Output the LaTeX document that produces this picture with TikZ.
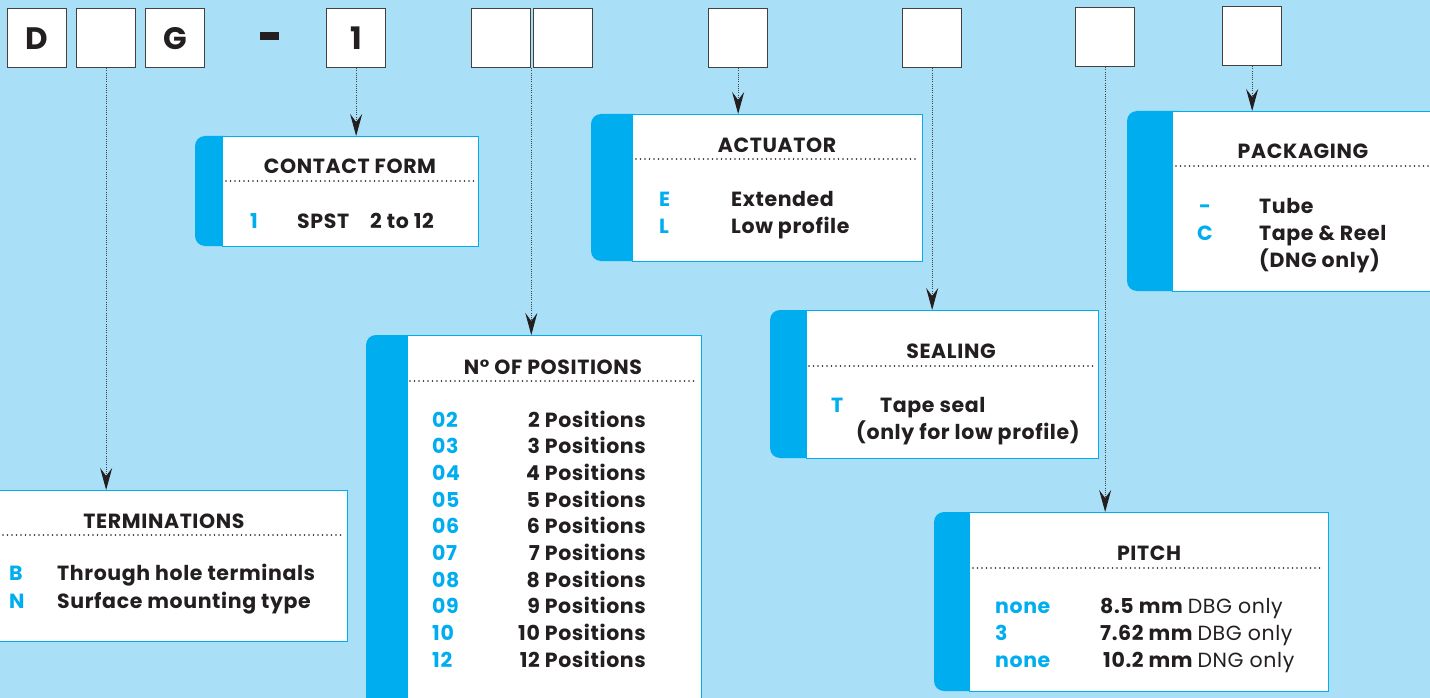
\documentclass[tikz,border=0pt]{standalone}
\usepackage{fontspec}
\setmainfont{Poppins}[LetterSpace=3]
\usetikzlibrary{arrows.meta}
\definecolor{bg}{RGB}{170,223,248}
\definecolor{accent}{RGB}{0,174,239}
\definecolor{ink}{RGB}{35,31,32}
\begin{document}
\begin{tikzpicture}[x=1pt,y=-1pt,
  topbox/.style={draw=ink!85, line width=1.3pt, fill=white, minimum width=59pt, minimum height=59pt, inner sep=0pt, anchor=north west, font=\fontsize{31}{31}\selectfont\bfseries, text=ink},
  panel/.style={draw=accent, line width=1.2pt, fill=white, inner sep=0pt, anchor=north west},
  accbar/.style={fill=accent, rounded corners=10pt},
  ttl/.style={anchor=base, inner sep=0pt, font=\fontsize{20.5}{20.5}\selectfont\bfseries, text=ink},
  code/.style={anchor=base west, inner sep=0pt, font=\fontsize{20.5}{20.5}\selectfont\bfseries, text=accent},
  txt/.style={anchor=base west, inner sep=0pt, font=\fontsize{20.5}{20.5}\selectfont\bfseries, text=ink},
  txtr/.style={anchor=base east, inner sep=0pt, font=\fontsize{20.5}{20.5}\selectfont\bfseries, text=ink},
  sep/.style={draw=ink, line width=1.6pt, dash pattern=on 0pt off 4.5pt, line cap=round},
  conn/.style={draw=ink!85, line width=1pt, dash pattern=on 1pt off 1.2pt, -{Stealth[length=22pt,width=12pt,inset=8pt,color=ink]}}
]
\clip (0,0) rectangle (1430,698);
\fill[bg] (0,0) rectangle (1430,698);

% top code boxes
\node[topbox] (b0) at (7,8) {D};
\node[topbox] (b1) at (76,8) {};
\node[topbox] (b2) at (145,8) {G};
\fill[ink] (260,32) rectangle (279,40);
\node[topbox] (b3) at (326,8) {1};
\node[topbox] (b4) at (471,8) {};
\node[topbox] (b5) at (533,8) {};
\node[topbox] (b6) at (708,8) {};
\node[topbox] (b7) at (902,8) {};
\node[topbox] (b8) at (1075,7) {};
\node[topbox] (b9) at (1222,6) {};

% CONTACT FORM
\fill[accbar] (195,136) rectangle (235,246);
\node[panel, minimum width=256pt, minimum height=110pt] (pcf) at (222,136) {};
\node[ttl] (tcf) at (350,174) {CONTACT FORM};
\draw[sep] (226,181) -- (476,181);
\node[code] (ccf) at (250,228) {1};
\node[txt] (xcf) at (297,228) {SPST};
\node[txt] (xcf2) at (370,228) {2 to 12};

% ACTUATOR
\fill[accbar] (591,114) rectangle (645,261);
\node[panel, minimum width=290pt, minimum height=147pt] (pact) at (632,114) {};
\node[ttl] (tact) at (777,153) {ACTUATOR};
\draw[sep] (636,159) -- (919,159);
\node[code] (cae) at (659,206) {E};
\node[txt] (xae) at (731,206) {Extended};
\node[code] (cal) at (659,233) {L};
\node[txt] (xal) at (731,233) {Low profile};

% TERMINATIONS
\node[panel, minimum width=350pt, minimum height=151pt] (pterm) at (-3,490) {};
\node[ttl] (tterm) at (164,528) {TERMINATIONS};
\draw[sep] (3,535) -- (344,535);
\node[code] (ctb) at (9,580) {B};
\node[txt] (xtb) at (57,580) {Through hole terminals};
\node[code] (ctn) at (9,608) {N};
\node[txt] (xtn) at (57,608) {Surface mounting type};

% N OF POSITIONS
\fill[accbar] (366,335) rectangle (420,720);
\node[panel, minimum width=294pt, minimum height=380pt] (ppos) at (407,335) {};
\node[ttl] (tpos) at (553,374) {N° OF POSITIONS};
\draw[sep] (410,381) -- (697,381);
\foreach \c/\t [count=\i from 0] in {02/2,03/3,04/4,05/5,06/6,07/7,08/8,09/9,10/10,12/12}{
  \node[code] (cp\i) at (432,427+26.67*\i) {\c};
  \node[txtr] (xp\i) at (646,427+26.67*\i) {\t\ Positions};
}

% SEALING
\fill[accbar] (770,310) rectangle (820,458);
\node[panel, minimum width=292pt, minimum height=148pt] (pseal) at (806,310) {};
\node[ttl] (tseal) at (951,358) {SEALING};
\draw[sep] (809,366) -- (1093,366);
\node[code] (cst) at (831,412) {T};
\node[txt] (xst) at (880,412) {Tape seal};
\node[txt] (xst2) at (856,439) {(only for low profile)};

% PITCH
\fill[accbar] (934,512) rectangle (985,691);
\node[panel, minimum width=359pt, minimum height=179pt] (ppitch) at (969,512) {};
\node[ttl] (tpitch) at (1149,560) {PITCH};
\draw[sep] (973,568) -- (1324,568);
\node[code] (cq1) at (995,613) {none};
\node[txt] (xq1) at (1100,613) {8.5 mm \mdseries DBG only};
\node[code] (cq2) at (995,640) {3};
\node[txt] (xq2) at (1100,640) {7.62 mm \mdseries DBG only};
\node[code] (cq3) at (995,667) {none};
\node[txt] (xq3) at (1103,667) {10.2 mm \mdseries DNG only};

% PACKAGING
\fill[accbar] (1127,111) rectangle (1190,291);
\node[panel, minimum width=270pt, minimum height=180pt] (ppack) at (1172,111) {};
\node[ttl] (tpack) at (1303,159) {PACKAGING};
\draw[sep] (1176,166) -- (1430,166);
\node[code] (ck1) at (1199,213) {-};
\node[txt] (xk1) at (1259,213) {Tube};
\node[code] (ck2) at (1197,240) {C};
\node[txt] (xk2) at (1259,240) {Tape \& Reel};
\node[txt] (xk3) at (1259,267) {(DNG only)};

% connectors
\draw[conn] (b1.south) -- (b1.south |- pterm.north);
\draw[conn] (b3.south) -- (b3.south |- pcf.north);
\draw[conn] (b4.south east) -- (b4.south east |- ppos.north);
\draw[conn] (b6.south) -- (b6.south |- pact.north);
\draw[conn] (b7.south) -- (b7.south |- pseal.north);
\draw[conn] (b8.south) -- (b8.south |- ppitch.north);
\draw[conn] (b9.south) -- (b9.south |- ppack.north);
\end{tikzpicture}
\end{document}
